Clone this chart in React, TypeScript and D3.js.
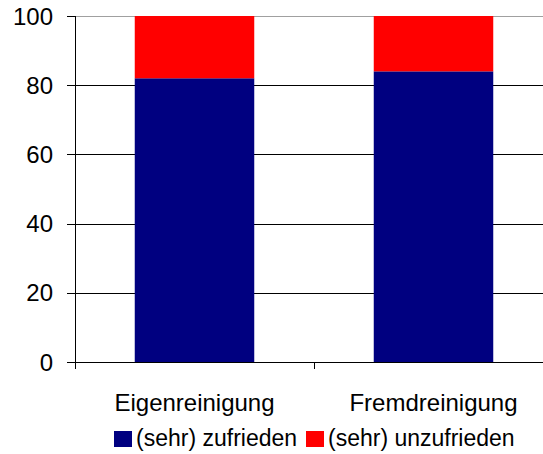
import * as d3 from 'd3';
import React from 'react';

const categories = ['Eigenreinigung', 'Fremdreinigung'];
const seriesNames = ['(sehr) zufrieden', '(sehr) unzufrieden'];
const zufrieden = [82, 84];
const unzufrieden = [18, 16];
const yTicks = [0, 20, 40, 60, 80, 100];
const colors = ['#000080', '#ff0000'];

const width = 543;
const height = 454;
const plot = { left: 75, top: 16, right: 553, bottom: 362 };
const font = '"Liberation Sans", Arial, sans-serif';

export default function App() {
    const rows = categories.map((c, i) => ({ cat: c, a: zufrieden[i], b: unzufrieden[i] }));
    const stack = d3.stack<any>().keys(['a', 'b']);
    const layers = stack(rows);

    const x = d3.scaleBand<string>()
        .domain(categories)
        .range([plot.left, plot.right])
        .paddingInner(0.5)
        .paddingOuter(0.25);
    // band of whole category for tick positions
    const xOuter = d3.scaleBand<string>().domain(categories).range([plot.left, plot.right]);
    const y = d3.scaleLinear().domain([0, 100]).range([plot.bottom, plot.top]);

    const tickPositions = [plot.left, ...categories.map(c => (xOuter(c) as number) + xOuter.bandwidth())];

    return (
        <svg width={width} height={height} style={{ position: 'absolute', left: 0, top: 0 }} fontFamily={font}>
            <rect x={0} y={0} width={width} height={height} fill="white" />
            {/* gridlines */}
            {yTicks.filter(t => t > 0).map(t => (
                <line key={t} x1={plot.left} x2={plot.right} y1={Math.round(y(t)) + 0.5} y2={Math.round(y(t)) + 0.5}
                    stroke={t === 100 ? '#a0a0a0' : '#000'} strokeWidth={1} />
            ))}
            {/* bars */}
            {layers.map((layer, li) => (
                <g key={li} fill={colors[li]}>
                    {layer.map((d, i) => (
                        <rect key={i} x={x(categories[i])} width={x.bandwidth()}
                            y={y(d[1])} height={y(d[0]) - y(d[1])} />
                    ))}
                </g>
            ))}
            {/* y axis */}
            <line x1={plot.left + 0.5} x2={plot.left + 0.5} y1={plot.top} y2={plot.bottom + 7} stroke="#000" />
            {yTicks.map(t => (
                <g key={t}>
                    <line x1={plot.left - 8} x2={plot.left} y1={Math.round(y(t)) + 0.5} y2={Math.round(y(t)) + 0.5} stroke="#000" />
                    <text x={53} y={y(t)} dy="0.36em" textAnchor="end" fontSize={24} fill="#000">{t}</text>
                </g>
            ))}
            {/* x axis */}
            <line x1={plot.left} x2={plot.right} y1={plot.bottom + 0.5} y2={plot.bottom + 0.5} stroke="#000" />
            {tickPositions.map((p, i) => (
                <line key={i} x1={Math.round(p) + 0.5} x2={Math.round(p) + 0.5} y1={plot.bottom} y2={plot.bottom + 7} stroke="#000" />
            ))}
            {categories.map(c => (
                <text key={c} x={(xOuter(c) as number) + xOuter.bandwidth() / 2} y={411} textAnchor="middle" fontSize={24} fill="#000">{c}</text>
            ))}
            {/* legend */}
            {seriesNames.map((s, i) => {
                const lx = i === 0 ? 114 : 306;
                return (
                    <g key={s}>
                        <rect x={lx} y={431} width={18} height={16} fill={colors[i]} />
                        <text x={lx + 22} y={446} fontSize={23} fill="#000">{s}</text>
                    </g>
                );
            })}
        </svg>
    );
}
